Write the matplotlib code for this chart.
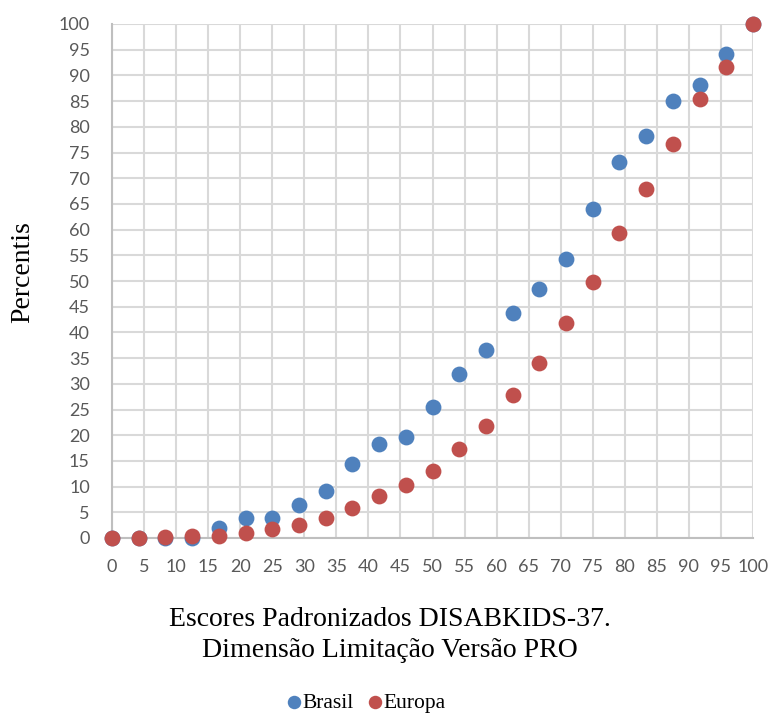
import matplotlib
matplotlib.use("Agg")
import matplotlib.pyplot as plt
import numpy as np

# Data
escores = [0, 4.17, 8.33, 12.5, 16.67, 20.83, 25, 29.17, 33.33, 37.5, 41.67, 45.83,
           50, 54.17, 58.33, 62.5, 66.67, 70.83, 75, 79.17, 83.33, 87.5, 91.67, 95.83, 100]
brasil = [0, 0, 0, 0, 2.0, 3.9, 3.9, 6.5, 9.2, 14.4, 18.3, 19.6,
          25.5, 32.0, 36.6, 43.7, 48.4, 54.2, 64.0, 73.2, 78.3, 85.0, 88.2, 94.1, 100]
europa = [0, 0, 0.2, 0.3, 0.4, 0.9, 1.75, 2.5, 3.9, 5.9, 8.2, 10.4,
          13.0, 17.4, 21.8, 27.9, 34.1, 41.9, 49.9, 59.3, 67.9, 76.7, 85.5, 91.7, 100]
ticks = list(range(0, 101, 5))

blue = "#4F81BD"
red = "#C0504D"
grid_c = "#D9D9D9"
tick_c = "#595959"

fig = plt.figure(figsize=(7.75, 7.16), dpi=100)
ax = fig.add_axes([112/775, 1-538/716, (753-112)/775, (538-24)/716])

ax.scatter(escores, brasil, s=130, color=blue, zorder=3, clip_on=False, linewidths=0, label="Brasil")
ax.scatter(escores, europa, s=130, color=red, zorder=4, clip_on=False, linewidths=0, label="Europa")

ax.set_xlim(0, 100)
ax.set_ylim(0, 100)
ax.set_xticks(ticks)
ax.set_yticks(ticks)
ax.set_xticklabels([str(t) for t in ticks])
ax.set_yticklabels([str(t) for t in ticks])
ax.grid(True, color=grid_c, linewidth=1.5, zorder=0)
ax.set_axisbelow(True)
for s in ["top", "right"]:
    ax.spines[s].set_visible(False)
for s in ["left", "bottom"]:
    ax.spines[s].set_color("#BFBFBF")
    ax.spines[s].set_linewidth(1.5)
ax.tick_params(axis="both", length=0, labelsize=13, labelcolor=tick_c)
ax.tick_params(axis="x", pad=15)
ax.tick_params(axis="y", pad=16)
for lab in ax.get_xticklabels() + ax.get_yticklabels():
    lab.set_fontfamily("Lato")

fig.text(23/775, 1-272/716, "Percentis", rotation=90, ha="center", va="center",
         family="Liberation Serif", fontsize=20)
fig.text(390/775, 1-635/716, "Escores Padronizados DISABKIDS-37.\nDimensão Limitação Versão PRO",
         ha="center", va="center", family="Liberation Serif", fontsize=20, linespacing=1.3)

leg = fig.legend(loc="center", bbox_to_anchor=(366/775, 1-703/716), ncol=2, frameon=False,
                 prop={"family": "Liberation Serif", "size": 15.5}, handletextpad=0.05,
                 handlelength=0.7, columnspacing=0.6, markerscale=0.85, borderaxespad=0)

fig.savefig("out.png", dpi=100)
